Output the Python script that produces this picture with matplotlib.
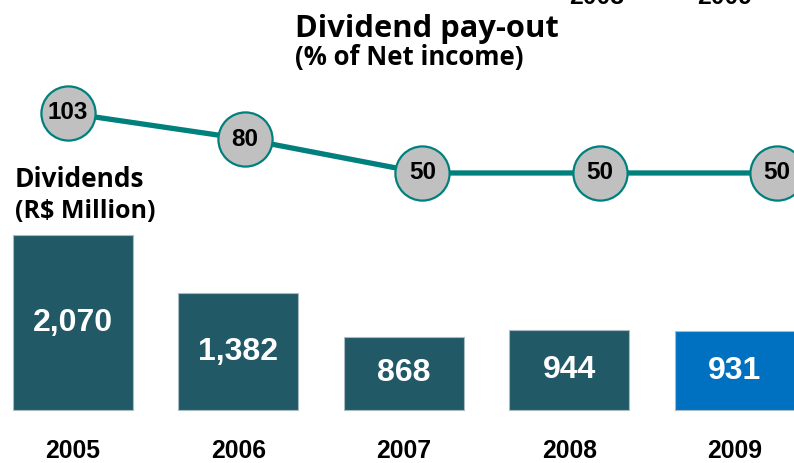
import numpy as np
import matplotlib
matplotlib.use('Agg')
import matplotlib.pyplot as plt

# data
years     = ['2005', '2006', '2007', '2008', '2009']
dividends = [2070, 1382, 868, 944, 931]
div_text  = ['2,070', '1,382', '868', '944', '931']
payout    = [103, 80, 50, 50, 50]

W, H = 794, 463
fig = plt.figure(figsize=(W/100, H/100), dpi=100)

def px(x, y):
    # pixel position (from top-left) -> figure fraction
    return x/W, 1 - y/H

# ---------------- bars ----------------
ax = fig.add_axes([0, 0, 1, 1])
ax.set_xlim(-0.441, 4.357)
ax.set_ylim(-627, 4850)
ax.axis('off')

x = np.arange(len(years))
bar_cols = ['#225966']*4 + ['#0070C0']
ax.bar(x, dividends, width=0.725, color=bar_cols, edgecolor='#a9bcc2', linewidth=0.8)
for i in range(len(years)):
    ax.text(x[i], dividends[i]/2, div_text[i], ha='center', va='center',
            color='white', fontsize=23, fontweight='bold', family='Liberation Sans')
    ax.text(x[i], -627 + 5*11.83, years[i], ha='center', va='baseline',
            fontsize=17.8, fontweight='bold', family='Liberation Sans')

# ---------------- pay-out line ----------------
ax2 = fig.add_axes([0, 0, 1, 1])
ax2.set_xlim(-0.3805, 4.095)
ax2.set_ylim(-206.2, 202.8)
ax2.axis('off')
ax2.patch.set_alpha(0)

xl = np.arange(len(payout))
ax2.plot(xl, payout, '-o', color='#00807d', lw=3.8, ms=39,
         mfc='#c0c0c0', mec='#00807d', mew=1.6, clip_on=False)
for i in range(len(payout)):
    ax2.text(xl[i], payout[i], str(payout[i]), ha='center', va='center',
             fontsize=17.5, fontweight='bold', family='Liberation Sans')

# ---------------- titles ----------------
fig.text(*px(295, 37), 'Dividend pay-out', fontsize=22.2, fontweight='bold',
         family='Open Sans', va='baseline')
fig.text(*px(295, 65), '(% of Net income)', fontsize=18.5, fontweight='bold',
         family='Open Sans', va='baseline')
fig.text(*px(15, 187), 'Dividends', fontsize=19, fontweight='bold',
         family='Open Sans', va='baseline')
fig.text(*px(15, 218), '(R$ Million)', fontsize=18, fontweight='bold',
         family='Open Sans', va='baseline')

# leftover labels cut off at the top edge
for lab, xx in [('2008', 597), ('2009', 725)]:
    fig.text(*px(xx, 4), lab, fontsize=17.8, fontweight='bold',
             family='Liberation Sans', ha='center', va='baseline')

fig.savefig('out.png', dpi=100)
